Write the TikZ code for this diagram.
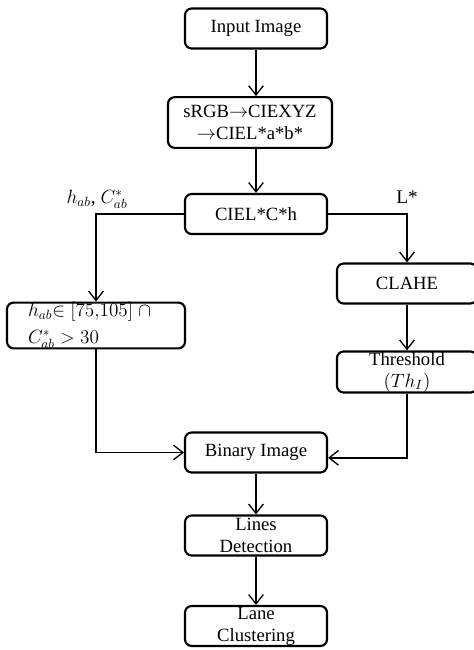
\documentclass[tikz,border=0pt]{standalone}
\usepackage{fontspec}
\setmainfont{Liberation Serif}
\usetikzlibrary{arrows.meta}

\tikzset{
  stepbox/.style={draw, line width=1.6pt, rounded corners=5pt,
    minimum width=106.5pt, minimum height=30pt, inner sep=0.5pt,
    align=center, font=\fontsize{14}{16.5}\selectfont},
  flow/.style={line width=1pt, -{Straight Barb[length=7pt,width=11pt]}},
  tag/.style={font=\fontsize{14.5}{16.5}\selectfont, inner sep=0pt},
}

\begin{document}
\begin{tikzpicture}[x=0.75pt, y=-0.75pt]
  \useasboundingbox (0,0) rectangle (474,650);

  \node[stepbox] (input) at (256,28.5) {Input Image};
  \node[stepbox, minimum width=123pt, minimum height=38pt] (convert) at (250,122.5)
    {sRGB$\rightarrow$CIEXYZ\\$\rightarrow$CIEL*a*b*};
  \node[stepbox] (lch) at (256,214) {CIEL*C*h};
  \node[stepbox, text width=102pt, inner xsep=15.75pt, inner ysep=0pt, minimum height=34pt, align=left,
    font=\fontsize{14.5}{20}\selectfont] (hue) at (96,325.5)
    {$h_{ab}{\in}\;[75{,}105]\;\cap$\\$C^*_{ab}>30$};
  \node[stepbox, minimum width=105pt] (clahe) at (407,283.5) {CLAHE};
  \node[stepbox, minimum width=105pt] (thresh) at (407,372) {Threshold\\$(Th_I)$};
  \node[stepbox] (binary) at (256,452.5) {Binary Image};
  \node[stepbox] (lines) at (256,535.5) {Lines\\Detection};
  \node[stepbox] (lane) at (256,626) {Lane\\Clustering};

  \node[tag] (hclabel) at (97,199) {$h_{ab}$, $C^*_{ab}$};
  \node[tag] (llabel) at (407,197) {L*};

  \draw[flow] (input.south) -- (input.south |- convert.north);
  \draw[flow] (input.south |- convert.south) -- (lch.north);
  \draw[flow] (lch.west) -| (hue.north);
  \draw[flow] (lch.east) -| (clahe.north);
  \draw[flow] (clahe) -- (thresh);
  \draw[flow] (hue.south) |- (binary.west);
  \draw[flow] (thresh.south) |- ([yshift=-4pt]binary.east);
  \draw[flow] (binary) -- (lines);
  \draw[flow] (lines) -- (lane);
\end{tikzpicture}
\end{document}
